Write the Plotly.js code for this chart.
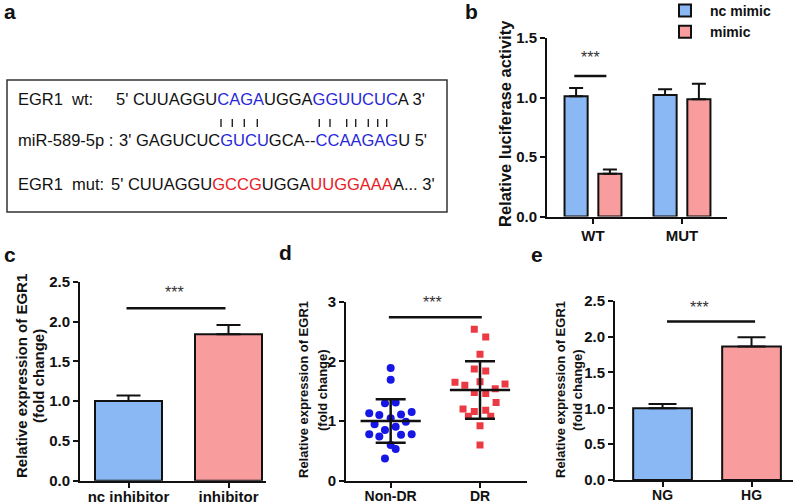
<!DOCTYPE html>
<html>
<head>
<meta charset="utf-8">
<script src="https://cdn.plot.ly/plotly-3.0.1.min.js"></script>
<style>html,body{margin:0;padding:0;background:#fff;}#chart{width:800px;height:504px;}</style>
</head>
<body>
<div id="chart"></div>
<script>
// ---------- data ----------
const bCats = ['WT', 'MUT'];
const bNcMimic = [1.01, 1.02];
const bNcMimicErr = [0.07, 0.05];
const bMimic = [0.36, 0.985];
const bMimicErr = [0.035, 0.13];

const cCats = ['nc inhibitor', 'inhibitor'];
const cValues = [1.0, 1.84];
const cErr = [0.07, 0.115];

const dCats = ['Non-DR', 'DR'];
const dNonDR = [1.89, 1.69, 1.30, 1.31, 1.13, 1.10, 1.11, 1.15, 1.045, 0.945, 0.99, 0.85, 0.905, 0.78, 0.74, 0.77, 0.78, 0.60, 0.53, 0.37];
const dNonDRJitter = [0, 0, -0.064, 0.056, -0.24, -0.127, 0.116, 0.235, 0, -0.18, 0.17, -0.064, 0.056, -0.24, -0.127, 0.116, 0.235, 0, 0.056, -0.064];
const dDR = [2.54, 2.41, 2.12, 1.87, 1.84, 1.65, 1.60, 1.66, 1.62, 1.54, 1.48, 1.46, 1.31, 1.20, 1.16, 1.18, 1.08, 1.08, 0.92, 0.60];
const dDRJitter = [-0.064, 0.064, 0, -0.064, 0.064, -0.28, -0.17, 0, 0.28, 0.17, -0.064, 0.064, 0.18, -0.19, -0.064, 0.064, -0.13, 0.12, 0, 0];
const dMean = [1.0, 1.52];
const dSD = [0.365, 0.48];

const eCats = ['NG', 'HG'];
const eValues = [1.0, 1.86];
const eErr = [0.06, 0.13];

const seqWtLabel = 'EGR1&nbsp;&nbsp;wt:';
const seqMirLabel = 'miR-589-5p :';
const seqMutLabel = 'EGR1&nbsp;&nbsp;mut:';
const seqWt = ["5' CUUAGGU", 'CAGA', 'UGGA', 'GGUUCUC', "A 3'"];
const seqMir = ["3' GAGUCUC", 'GUCU', 'GCA--', 'CCAAGAG', "U 5'"];
const seqMut = ["5' CUUAGGU", 'GCCG', 'UGGA', 'UUGGAAA', "A... 3'"];

// ---------- styling ----------
const FONT = 'Liberation Sans, Arial, Helvetica, sans-serif';
const BLUE = 'rgb(138,184,244)';
const PINK = 'rgb(249,156,158)';
const SEQ_BLUE = 'rgb(40,40,215)';
const SEQ_RED = 'rgb(232,32,36)';
const W = 800, H = 504;
const px = v => v / W;
const py = v => 1 - v / H;

function colorSeq(parts, color) {
  return parts[0] + '<span style="color:' + color + '">' + parts[1] + '</span>' + parts[2] +
         '<span style="color:' + color + '">' + parts[3] + '</span>' + parts[4];
}

const barLine = {color: '#111', width: 2};

const traces = [
  // panel b
  {type: 'bar', name: 'nc mimic', x: bCats, y: bNcMimic, xaxis: 'x', yaxis: 'y',
   width: 0.26, offset: -0.32, marker: {color: BLUE, line: barLine},
   error_y: {type: 'data', symmetric: false, array: bNcMimicErr, arrayminus: [0, 0], color: '#111', thickness: 2, width: 7},
   hoverinfo: 'skip'},
  {type: 'bar', name: 'mimic', x: bCats, y: bMimic, xaxis: 'x', yaxis: 'y',
   width: 0.26, offset: 0.06, marker: {color: PINK, line: barLine},
   error_y: {type: 'data', symmetric: false, array: bMimicErr, arrayminus: [0, 0], color: '#111', thickness: 2, width: 7},
   hoverinfo: 'skip'},
  // panel c
  {type: 'bar', x: cCats, y: cValues, xaxis: 'x2', yaxis: 'y2', width: 0.67, showlegend: false,
   marker: {color: [BLUE, PINK], line: barLine},
   error_y: {type: 'data', symmetric: false, array: cErr, arrayminus: [0, 0], color: '#111', thickness: 2, width: 12},
   hoverinfo: 'skip'},
  // panel d
  {type: 'scatter', mode: 'markers', x: dNonDR.map((v, i) => 0 + dNonDRJitter[i]), y: dNonDR,
   xaxis: 'x3', yaxis: 'y3', showlegend: false,
   marker: {symbol: 'circle', size: 8, color: 'rgb(22,22,230)'}, hoverinfo: 'skip'},
  {type: 'scatter', mode: 'markers', x: dDR.map((v, i) => 1 + dDRJitter[i]), y: dDR,
   xaxis: 'x3', yaxis: 'y3', showlegend: false,
   marker: {symbol: 'square', size: 7, color: 'rgb(236,58,68)'}, hoverinfo: 'skip'},
  {type: 'scatter', mode: 'markers', x: dCats.map((c, i) => i), y: dMean,
   xaxis: 'x3', yaxis: 'y3', showlegend: false,
   marker: {symbol: 'line-ew', size: 43, color: '#111', line: {color: '#111', width: 2.5}},
   error_y: {type: 'data', array: dSD, color: '#111', thickness: 2.5, width: 15},
   hoverinfo: 'skip'},
  // panel e
  {type: 'bar', x: eCats, y: eValues, xaxis: 'x4', yaxis: 'y4', width: 0.66, showlegend: false,
   marker: {color: [BLUE, PINK], line: barLine},
   error_y: {type: 'data', symmetric: false, array: eErr, arrayminus: [0, 0], color: '#111', thickness: 2, width: 14},
   hoverinfo: 'skip'}
];

function xAxis(domainPx, range, anchor, size, extra) {
  return Object.assign({
    domain: [px(domainPx[0]), px(domainPx[1])], range: range, anchor: anchor,
    showline: true, linecolor: '#111', linewidth: 2, mirror: false,
    ticks: 'outside', ticklen: 5, tickwidth: 2, tickcolor: '#111',
    showgrid: false, zeroline: false, fixedrange: true,
    tickfont: {family: FONT, size: size, color: '#111', weight: 'bold'}
  }, extra || {});
}
function yAxis(domainPx, range, dtick, fmt, anchor, size) {
  return {
    domain: [py(domainPx[1]), py(domainPx[0])], range: range, anchor: anchor,
    dtick: dtick, tick0: 0, tickformat: fmt,
    showline: true, linecolor: '#111', linewidth: 2,
    ticks: 'outside', ticklen: 5, tickwidth: 2, tickcolor: '#111',
    showgrid: false, zeroline: false, fixedrange: true,
    tickfont: {family: FONT, size: size, color: '#111', weight: 'bold'}
  };
}

const annotations = [];
function ann(text, x, y, opts) {
  annotations.push(Object.assign({
    text: text, x: px(x), y: py(y), xref: 'paper', yref: 'paper',
    showarrow: false, xanchor: 'center', yanchor: 'middle',
    font: {family: FONT, size: 14, color: '#111'}
  }, opts || {}));
}
// panel letters
const letterFont = {family: FONT, size: 21, color: '#111', weight: 'bold'};
ann('a', 10, 11, {font: letterFont});
ann('b', 471, 11, {font: letterFont});
ann('c', 10, 254, {font: letterFont});
ann('d', 285, 252, {font: letterFont});
ann('e', 537, 254, {font: letterFont});

// panel a sequences
const seqFont = {family: FONT, size: 16.5, color: '#111'};
ann(seqWtLabel, 16, 99, {xanchor: 'left', font: seqFont});
ann(colorSeq(seqWt, SEQ_BLUE), 114, 99, {xanchor: 'left', font: seqFont});
ann(seqMirLabel, 16, 140, {xanchor: 'left', font: seqFont});
ann(colorSeq(seqMir, SEQ_BLUE), 117, 140, {xanchor: 'left', font: seqFont});
ann(seqMutLabel, 16, 184, {xanchor: 'left', font: seqFont});
ann(colorSeq(seqMut, SEQ_RED), 109, 184, {xanchor: 'left', font: seqFont});

// axis titles
const titleFontB = {family: FONT, size: 16.5, color: '#111', weight: 'bold'};
ann('Relative luciferase activity', 505, 124, {textangle: -90, font: titleFontB});
const titleFontC = {family: FONT, size: 15, color: '#111', weight: 'bold'};
ann('Relative expression of EGR1', 21, 376, {textangle: -90, font: titleFontC});
ann('(fold change)', 38, 376, {textangle: -90, font: titleFontC});
const titleFontDE = {family: FONT, size: 13, color: '#111', weight: 'bold'};
ann('Relative expression of EGR1', 303, 390, {textangle: -90, font: titleFontDE});
ann('(fold change)', 322, 390, {textangle: -90, font: titleFontDE});
ann('Relative expression of EGR1', 560, 390, {textangle: -90, font: titleFontDE});
ann('(fold change)', 577, 390, {textangle: -90, font: titleFontDE});

// significance stars (data-referenced)
const starFont = {family: FONT, size: 16, color: '#333'};
annotations.push({text: '***', xref: 'x', yref: 'y', x: -0.03, y: 1.34, showarrow: false, font: starFont});
annotations.push({text: '***', xref: 'x2', yref: 'y2', x: 0.455, y: 2.36, showarrow: false, font: starFont});
annotations.push({text: '***', xref: 'x3', yref: 'y3', x: 0.47, y: 2.99, showarrow: false, font: starFont});
annotations.push({text: '***', xref: 'x4', yref: 'y4', x: 0.41, y: 2.40, showarrow: false, font: starFont});

const sigLine = {color: '#111', width: 2.5};
const shapes = [
  {type: 'rect', xref: 'paper', yref: 'paper', x0: px(7), x1: px(447), y0: py(212), y1: py(80),
   line: {color: '#333', width: 1.5}, fillcolor: 'rgba(0,0,0,0)'},
  {type: 'line', xref: 'x', yref: 'y', x0: -0.21, x1: 0.15, y0: 1.18, y1: 1.18, line: sigLine},
  {type: 'line', xref: 'x2', yref: 'y2', x0: -0.02, x1: 0.97, y0: 2.165, y1: 2.165, line: sigLine},
  {type: 'line', xref: 'x3', yref: 'y3', x0: -0.02, x1: 1.02, y0: 2.74, y1: 2.74, line: sigLine},
  {type: 'line', xref: 'x4', yref: 'y4', x0: 0.05, x1: 1.04, y0: 2.21, y1: 2.21, line: sigLine}
];
// complementarity ticks between wt and miR sequences
const pairTicks = [221, 232.3, 244.3, 257.3, 319.3, 330, 346.7, 355.7, 368.3, 377.7, 386.7];
pairTicks.forEach(xp => shapes.push({type: 'line', xref: 'paper', yref: 'paper',
  x0: px(xp), x1: px(xp), y0: py(127), y1: py(119), line: {color: '#222', width: 1.4}}));

const layout = {
  width: W, height: H,
  margin: {l: 0, r: 0, t: 0, b: 0, autoexpand: false},
  paper_bgcolor: '#fff', plot_bgcolor: 'rgba(0,0,0,0)',
  font: {family: FONT, color: '#111'},
  barmode: 'overlay',
  showlegend: true,
  legend: {x: px(660), y: py(-5), xanchor: 'left', yanchor: 'top', itemwidth: 40,
           font: {family: FONT, size: 14, color: '#111', weight: 'bold'},
           bgcolor: 'rgba(0,0,0,0)', tracegroupgap: 0, itemclick: false},
  xaxis: xAxis([547, 727], [-0.517, 1.506], 'y', 15, {type: 'category', ticklabelstandoff: -1}),
  yaxis: yAxis([38, 216.5], [0, 1.5], 0.5, '.1f', 'x', 15),
  xaxis2: xAxis([80, 266], [-0.485, 1.375], 'y2', 15, {type: 'category', ticklabelstandoff: -4}),
  yaxis2: yAxis([281.7, 480.7], [0, 2.5], 0.5, '.1f', 'x2', 15),
  xaxis3: xAxis([346, 527], [-0.5, 1.526], 'y3', 14, {type: 'linear', tickvals: [0, 1], ticktext: dCats, ticklabelstandoff: -4}),
  yaxis3: yAxis([301.7, 480.7], [0, 3], 1, 'd', 'x3', 15),
  xaxis4: xAxis([615, 793], [-0.534, 1.466], 'y4', 14, {type: 'category', ticklabelstandoff: -4}),
  yaxis4: yAxis([300.7, 480], [0, 2.5], 0.5, '.1f', 'x4', 15),
  annotations: annotations,
  shapes: shapes
};

Plotly.newPlot('chart', traces, layout, {displayModeBar: false, staticPlot: true});
</script>
</body>
</html>
